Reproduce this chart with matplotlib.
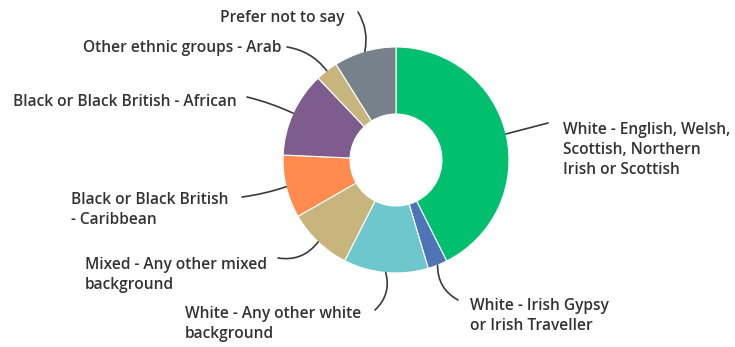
import matplotlib
matplotlib.use("Agg")
import matplotlib.pyplot as plt
import numpy as np

# Ethnicity breakdown, clockwise from 12 o'clock
labels = [
    "White - English, Welsh,\nScottish, Northern\nIrish or Scottish",
    "White - Irish Gypsy\nor Irish Traveller",
    "White - Any other white\nbackground",
    "Mixed - Any other mixed\nbackground",
    "Black or Black British\n- Caribbean",
    "Black or Black British - African",
    "Other ethnic groups - Arab",
    "Prefer not to say",
]
shares = [42.6, 2.8, 12.1, 9.2, 9.0, 12.2, 3.2, 8.9]
colors = ["#00BF6F", "#4F74B5", "#6DC7CC", "#C8B57E", "#FF8B4E",
          "#7E5C8E", "#C8B57E", "#76818A"]

W, H = 735, 347
CENTER = (396, H - 160)
R_OUT, R_IN = 113, 46

# label anchor (left x, centre y, px from top-left) and leader end point
label_pos = [(563, 150), (470, 316), (185, 324), (85, 275),
             (71, 210), (13, 102), (83, 48), (220, 18)]
leader_end = [(548, 123), (458, 300), (375, 310), (278, 258),
              (242, 197), (247, 97), (287, 47), (358, 12)]
leader_rad = [0.0, -0.3, 0.3, 0.3, 0.05, -0.05, -0.2, -0.2]

fig = plt.figure(figsize=(W / 100, H / 100), dpi=100)
ax = fig.add_axes([0, 0, 1, 1])

ax.pie(shares, colors=colors, radius=R_OUT, center=CENTER, startangle=90,
       counterclock=False,
       wedgeprops=dict(width=R_OUT - R_IN, edgecolor="white", linewidth=0.8))

ax.set_xlim(0, W)
ax.set_ylim(0, H)
ax.set_aspect("equal")
ax.axis("off")

total = sum(shares)
cum = np.cumsum([0] + shares[:-1])
for i, lab in enumerate(labels):
    mid = np.deg2rad(90 - 360 * (cum[i] + shares[i] / 2) / total)
    start = (CENTER[0] + R_OUT * np.cos(mid), CENTER[1] + R_OUT * np.sin(mid))
    ex, ey = leader_end[i]
    ax.annotate("", xy=start, xytext=(ex, H - ey),
                arrowprops=dict(arrowstyle="-", color="#3a3a3a", lw=1.2,
                                shrinkA=0, shrinkB=0,
                                connectionstyle=f"arc3,rad={leader_rad[i]}"))
    lx, ly = label_pos[i]
    ax.text(lx, H - ly, lab, ha="left", va="center", fontsize=11.2,
            family="Open Sans", weight="semibold", color="#333333",
            linespacing=1.33)

fig.savefig("out.png", dpi=100, facecolor="white")
